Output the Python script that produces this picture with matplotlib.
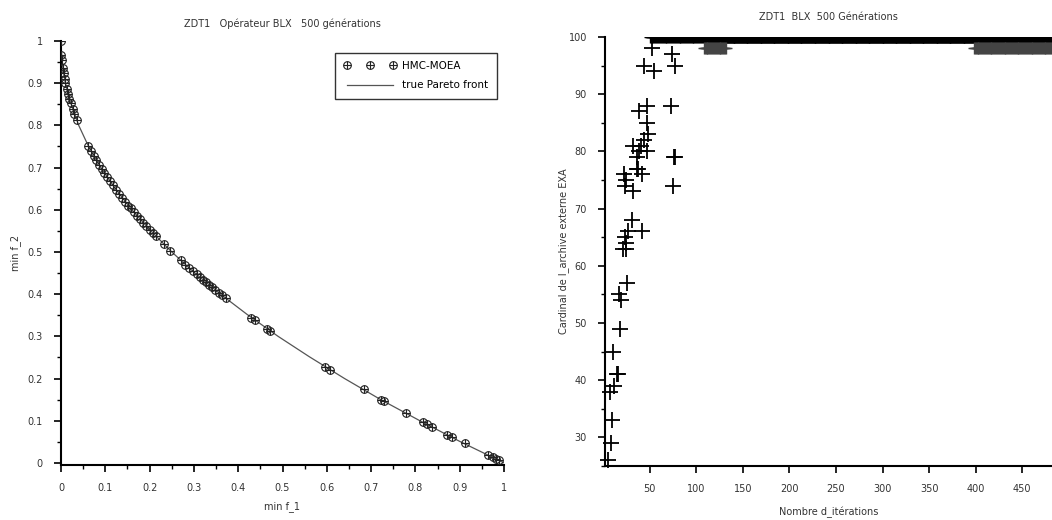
import numpy as np
import matplotlib.pyplot as plt
from matplotlib.ticker import MultipleLocator

# ZDT1 - solutions HMC-MOEA (min f_1, min f_2)
f1_pts = [0.000, 0.001, 0.002, 0.004, 0.006, 0.008, 0.010, 0.013, 0.016, 0.019, 0.022, 0.026, 0.030, 0.035,
          0.062, 0.068, 0.074, 0.080, 0.086, 0.092, 0.098, 0.104, 0.110, 0.117, 0.124, 0.131, 0.138, 0.145,
          0.152, 0.158, 0.165, 0.172, 0.179, 0.186, 0.193, 0.200, 0.207, 0.214, 0.232, 0.247,
          0.270, 0.281, 0.290, 0.298, 0.306, 0.313, 0.320, 0.327, 0.334, 0.341, 0.348, 0.356, 0.364, 0.372,
          0.430, 0.437, 0.465, 0.472, 0.597, 0.607, 0.683, 0.722, 0.730, 0.778, 0.818, 0.826, 0.838,
          0.872, 0.882, 0.911, 0.965, 0.975, 0.982, 0.988]
f2_pts = [1.000, 0.968, 0.955, 0.937, 0.923, 0.911, 0.900, 0.886, 0.874, 0.862, 0.852, 0.839, 0.827, 0.813,
          0.751, 0.739, 0.728, 0.717, 0.707, 0.697, 0.687, 0.678, 0.668, 0.658, 0.648, 0.638, 0.629, 0.619,
          0.610, 0.603, 0.594, 0.585, 0.577, 0.569, 0.561, 0.553, 0.545, 0.537, 0.518, 0.503,
          0.480, 0.470, 0.461, 0.454, 0.447, 0.441, 0.434, 0.428, 0.422, 0.416, 0.410, 0.403, 0.397, 0.390,
          0.344, 0.339, 0.318, 0.313, 0.227, 0.221, 0.174, 0.150, 0.146, 0.118, 0.096, 0.091, 0.085,
          0.066, 0.061, 0.046, 0.018, 0.013, 0.009, 0.006]

# true Pareto front
front_f1 = [0.0, 0.002, 0.005, 0.01, 0.02, 0.04, 0.06, 0.09, 0.12, 0.16, 0.2, 0.25, 0.3, 0.36,
            0.42, 0.49, 0.56, 0.64, 0.72, 0.81, 0.9, 1.0]
front_f2 = [1.0, 0.955, 0.929, 0.9, 0.859, 0.8, 0.755, 0.7, 0.654, 0.6, 0.553, 0.5, 0.452, 0.4,
            0.352, 0.3, 0.252, 0.2, 0.151, 0.1, 0.051, 0.0]

# cardinal de l'archive externe en fonction des iterations
it_pts = [5, 8, 9, 7, 12, 15, 16, 11, 18, 19, 17, 26,
          21, 25, 23, 27, 25, 31, 42,
          22, 25, 23, 32, 37, 36, 42, 36, 32, 41, 47, 38, 44, 48, 47, 39, 47,
          52, 44, 55, 74, 77, 73, 76, 77, 75]
card_pts = [26, 29, 33, 38, 39, 41, 41, 45, 49, 54, 55, 57,
            63, 63, 65, 66, 64, 68, 66,
            76, 75, 74, 73, 77, 77, 76, 79, 81, 81, 80, 80, 82, 83, 85, 87, 88,
            98, 95, 94, 97, 95, 88, 79, 79, 74]
# plateau (debut, fin, valeur)
band_start = [50, 132, 108, 398]
band_stop = [483, 398, 133, 483]
band_val = [100, 100, 98, 98]

plt.rcParams['font.family'] = 'DejaVu Sans'
txt = '#333333'
ticklab = ['0', '0.1', '0.2', '0.3', '0.4', '0.5', '0.6', '0.7', '0.8', '0.9', '1']

fig = plt.figure(figsize=(10.52, 5.20), dpi=100)

# ---- gauche : front de Pareto
ax1 = fig.add_axes([61/1052, 1 - 465/520, 443/1052, 424/520])
h_ln, = ax1.plot(front_f1, front_f2, color='#555555', lw=0.9, zorder=2)
h_o, = ax1.plot(f1_pts, f2_pts, ls='none', marker='o', ms=5.5, mfc='none', mec='#222222', mew=0.8, zorder=3)
h_p, = ax1.plot(f1_pts, f2_pts, ls='none', marker='+', ms=6, mec='#222222', mew=0.8, zorder=3)
leg = ax1.legend([(h_o, h_p), h_ln], ['HMC-MOEA', 'true Pareto front'], loc='upper right',
                 bbox_to_anchor=(0.995, 0.985), numpoints=3, fontsize=7.5, fancybox=False,
                 frameon=True, edgecolor='black', handlelength=5, borderpad=0.8,
                 labelspacing=0.9, handletextpad=0.6)
leg.get_frame().set_linewidth(1.0)
ax1.set_xlim(0, 1)
ax1.set_ylim(-0.005, 1.0)
ax1.set_xticks(np.arange(0, 1.01, 0.1))
ax1.set_yticks(np.arange(0, 1.01, 0.1))
ax1.xaxis.set_minor_locator(MultipleLocator(0.05))
ax1.yaxis.set_minor_locator(MultipleLocator(0.05))
ax1.set_xticklabels(ticklab)
ax1.set_yticklabels(ticklab)
ax1.set_title('ZDT1   Opérateur BLX   500 générations', fontsize=7, color=txt, pad=10)
ax1.set_xlabel('min f_1', fontsize=7, color=txt)
ax1.set_ylabel('min f_2', fontsize=7, color=txt)
ax1.xaxis.set_label_coords(0.5, -0.085)
ax1.yaxis.set_label_coords(-0.09, 0.5)

# ---- droite : cardinal de l'archive
ax2 = fig.add_axes([605/1052, 1 - 466/520, 447/1052, 429/520])
for s, e, v in zip(band_start, band_stop, band_val):
    xs = np.arange(s, e)
    c = 'black' if v == 100 else '#444444'
    ax2.plot(xs, [v] * len(xs), ls='none', marker='+', ms=9, mec=c, mew=1.0)
ax2.plot(it_pts, card_pts, ls='none', marker='+', ms=11, mec='black', mew=1.3, clip_on=False)
ax2.set_xlim(2, 482)
ax2.set_ylim(25, 100)
ax2.set_xticks(np.arange(50, 451, 50))
ax2.yaxis.set_major_locator(MultipleLocator(10))
ax2.yaxis.set_minor_locator(MultipleLocator(5))
ax2.set_title('ZDT1  BLX  500 Générations', fontsize=7, color=txt, pad=12)
ax2.set_xlabel('Nombre d_itérations', fontsize=7, color=txt)
ax2.set_ylabel('Cardinal de l_archive externe EXA', fontsize=7, color=txt)
ax2.xaxis.set_label_coords(0.5, -0.095)
ax2.yaxis.set_label_coords(-0.08, 0.5)

for ax in (ax1, ax2):
    ax.spines['top'].set_visible(False)
    ax.spines['right'].set_visible(False)
    ax.spines['left'].set_linewidth(1.5)
    ax.spines['bottom'].set_linewidth(1.5)
    ax.tick_params(which='major', direction='out', length=5, width=1.2, labelsize=7,
                   labelcolor=txt, pad=8)
    ax.tick_params(which='minor', direction='out', length=3, width=1.0)

fig.savefig('out.png', dpi=100)
